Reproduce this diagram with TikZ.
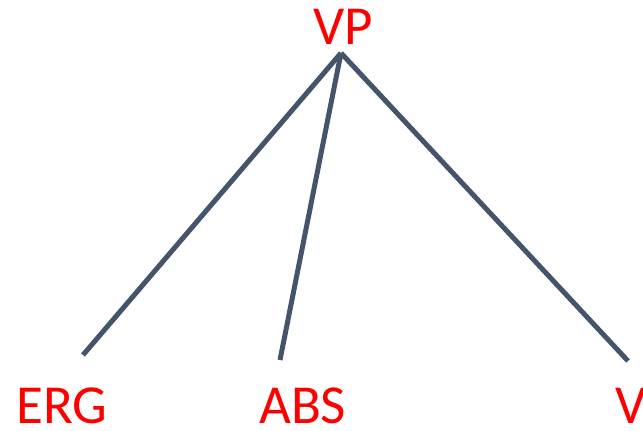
\documentclass[tikz,border=0pt]{standalone}
\usepackage{fontspec}
\setmainfont{Carlito}
\definecolor{branch}{HTML}{44546A}
\definecolor{labelred}{HTML}{FF0000}
\begin{document}
\begin{tikzpicture}[x=1pt,y=-1pt,
  cat/.style={text=labelred,inner sep=0pt,anchor=base west,font=\fontsize{55}{60}\selectfont},
  edge/.style={draw=branch,line width=5pt}]
  \useasboundingbox (0,0) rectangle (643,431);
  % category labels
  \node[cat] (vp) at (313,45) {VP};
  \node[cat] (erg) at (16,423) {ERG};
  \node[cat] (abs) at (259,423) {ABS};
  \node[cat] (v) at (615,423) {V};
  % branch end points
  \coordinate (apex) at (341,53);
  \coordinate (ergend) at (83,355);
  \coordinate (absend) at (280,360);
  \coordinate (vend) at (628,361);
  % branches
  \draw[edge] (apex) -- (ergend);
  \draw[edge] (apex) -- (absend);
  \draw[edge] (apex) -- (vend);
\end{tikzpicture}
\end{document}
